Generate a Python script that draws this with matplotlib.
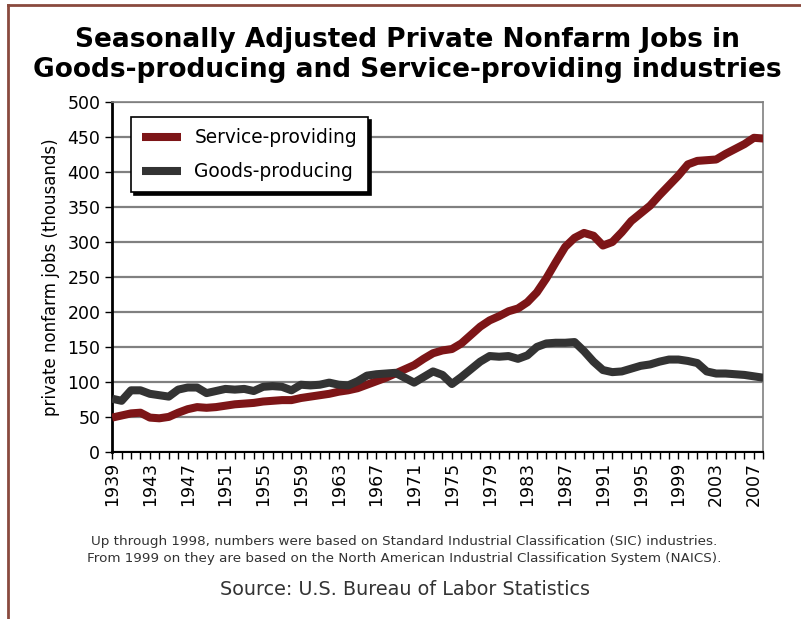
import numpy as np
import matplotlib.pyplot as plt
from matplotlib.lines import Line2D

# data (thousands of jobs)
years = list(range(1939, 2009))
service = [49, 52, 55, 56, 49, 48, 50, 56, 61, 64,
           63, 64, 66, 68, 69, 70, 72, 73, 74, 74,
           77, 79, 81, 83, 86, 88, 91, 96, 101, 106,
           112, 118, 124, 133, 141, 145, 147, 155, 167, 179,
           188, 194, 201, 205, 214, 228, 248, 271, 293, 306,
           313, 309, 295, 300, 314, 330, 341, 352, 367, 381,
           395, 411, 416, 417, 418, 426, 433, 440, 449, 448]
goods = [76, 73, 88, 88, 83, 81, 79, 89, 92, 92,
         84, 87, 90, 89, 90, 87, 93, 94, 93, 88,
         96, 95, 96, 99, 96, 95, 101, 109, 111, 112,
         113, 106, 99, 107, 115, 110, 97, 107, 118, 129,
         137, 136, 137, 133, 138, 150, 155, 156, 156, 157,
         144, 129, 117, 114, 115, 119, 123, 125, 129, 132,
         132, 130, 127, 115, 112, 112, 111, 110, 108, 106]
label_years = list(range(1939, 2009, 4))

fig = plt.figure(figsize=(8.01, 6.19), dpi=100)
ax = fig.add_axes([0.140, 0.270, 0.813, 0.565])

# slide frame lines (left and top)
fig.add_artist(Line2D([0.010, 0.010], [0, 0.992], transform=fig.transFigure,
                      color='#8a4a3e', lw=2))
fig.add_artist(Line2D([0.010, 1.0], [0.992, 0.992], transform=fig.transFigure,
                      color='#8a4a3e', lw=2))

ax.plot(years, service, color='#7d1517', lw=5.8, solid_capstyle='butt',
        label='Service-providing', zorder=3)
ax.plot(years, goods, color='#333333', lw=5.8, solid_capstyle='butt',
        label='Goods-producing', zorder=3)

ax.set_xlim(1939, 2008)
ax.set_ylim(0, 500)
ax.set_yticks(range(0, 501, 50))
ax.set_xticks(years, minor=True)
ax.set_xticks(label_years)
ax.set_xticklabels([str(y) for y in label_years], rotation=90)
ax.tick_params(axis='x', which='both', direction='out', length=5, width=1,
               color='black', labelsize=12.5, pad=2)
ax.tick_params(axis='y', direction='out', length=5, width=1, labelsize=12.5)

ax.yaxis.grid(True, color='#808080', lw=1.6)
ax.set_axisbelow(True)
for side in ['top', 'right']:
    ax.spines[side].set_color('#808080')
    ax.spines[side].set_linewidth(1.2)
ax.spines['left'].set_linewidth(2)
ax.spines['bottom'].set_linewidth(1.5)

ax.set_ylabel('private nonfarm jobs (thousands)', fontsize=12, labelpad=5)

leg = ax.legend(loc='upper left', bbox_to_anchor=(0.029, 0.957),
                borderaxespad=0, fancybox=False, fontsize=13.4,
                handlelength=2.1, handletextpad=0.7, labelspacing=0.8,
                borderpad=0.6, shadow={'color': 'black', 'alpha': 1})
leg.get_frame().set_edgecolor('black')
leg.get_frame().set_linewidth(1.2)

fig.text(0.509, 0.935, 'Seasonally Adjusted Private Nonfarm Jobs in',
         ha='center', va='center', fontsize=19.0, fontweight='bold')
fig.text(0.509, 0.887, 'Goods-producing and Service-providing industries',
         ha='center', va='center', fontsize=19.0, fontweight='bold')

fig.text(0.505, 0.126, 'Up through 1998, numbers were based on Standard '
         'Industrial Classification (SIC) industries.',
         ha='center', va='center', fontsize=9.7, color='#333333')
fig.text(0.505, 0.098, 'From 1999 on they are based on the North American '
         'Industrial Classification System (NAICS).',
         ha='center', va='center', fontsize=9.7, color='#333333')
fig.text(0.505, 0.047, 'Source: U.S. Bureau of Labor Statistics',
         ha='center', va='center', fontsize=13.8, color='#333333')

fig.savefig('out.png', dpi=100)
